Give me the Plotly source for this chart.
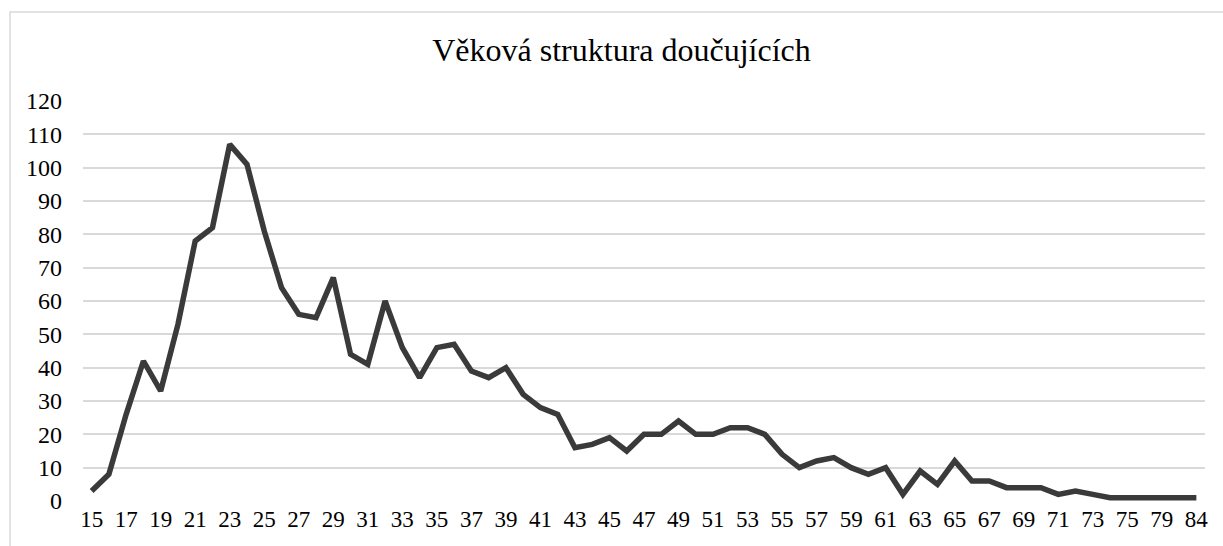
import plotly.graph_objects as go

ages = [str(a) for a in range(15, 76)] + ["77", "79", "81", "84"]
counts = [3, 8, 26, 42, 33, 53, 78, 82, 107, 101,
          81, 64, 56, 55, 67, 44, 41, 60, 46, 37,
          46, 47, 39, 37, 40, 32, 28, 26, 16, 17,
          19, 15, 20, 20, 24, 20, 20, 22, 22, 20,
          14, 10, 12, 13, 10, 8, 10, 2, 9, 5,
          12, 6, 6, 4, 4, 4, 2, 3, 2, 1,
          1, 1, 1, 1, 1]
tick_labels = ages[::2]
title_text = "Věková struktura doučujících"

W, H = 1223, 546
ml, mr, mt, mb = 83, 18, 101, 45
pw, ph = W - ml - mr, H - mt - mb

fig = go.Figure()
fig.add_trace(go.Scatter(
    x=ages, y=counts, mode="lines",
    line=dict(color="#3a3a3a", width=5.5, shape="linear"),
    hoverinfo="x+y",
))

font_family = "Liberation Serif"

fig.update_layout(
    width=W, height=H,
    margin=dict(l=ml, r=mr, t=mt, b=mb),
    paper_bgcolor="white", plot_bgcolor="white",
    showlegend=False,
    title=dict(text=title_text, x=621.5 / W, xanchor="center",
               y=1 - 50 / H, yref="container", yanchor="middle",
               font=dict(family=font_family, size=32, color="#000000")),
    font=dict(family=font_family, size=24, color="#000000"),
    xaxis=dict(type="category", categoryorder="array", categoryarray=ages,
               range=[-0.5, len(ages) - 0.5],
               tickmode="array", tickvals=tick_labels, ticktext=tick_labels,
               showgrid=False, showline=False, zeroline=False, ticks="",
               ticklabelstandoff=2, automargin=False,
               tickfont=dict(family=font_family, size=23, color="#000000")),
    yaxis=dict(range=[0, 120], dtick=10, tick0=0,
               showgrid=True, gridcolor="#d9d9d9", gridwidth=2,
               zeroline=False, showline=False, ticks="",
               ticklabelstandoff=20, automargin=False,
               tickfont=dict(family=font_family, size=24, color="#000000")),
    shapes=[dict(type="rect", xref="paper", yref="paper",
                 x0=(10 - ml) / pw, x1=(W + 20 - ml) / pw,
                 y0=-(H + 20 - mt - ph) / ph, y1=(mt + ph - 12) / ph,
                 line=dict(color="#d9d9d9", width=1.5), fillcolor="rgba(0,0,0,0)",
                 layer="below")],
)

fig.write_html("out.html",
               config={"displayModeBar": False},
               post_script="document.body.style.margin='0px';document.body.style.overflow='hidden';")
